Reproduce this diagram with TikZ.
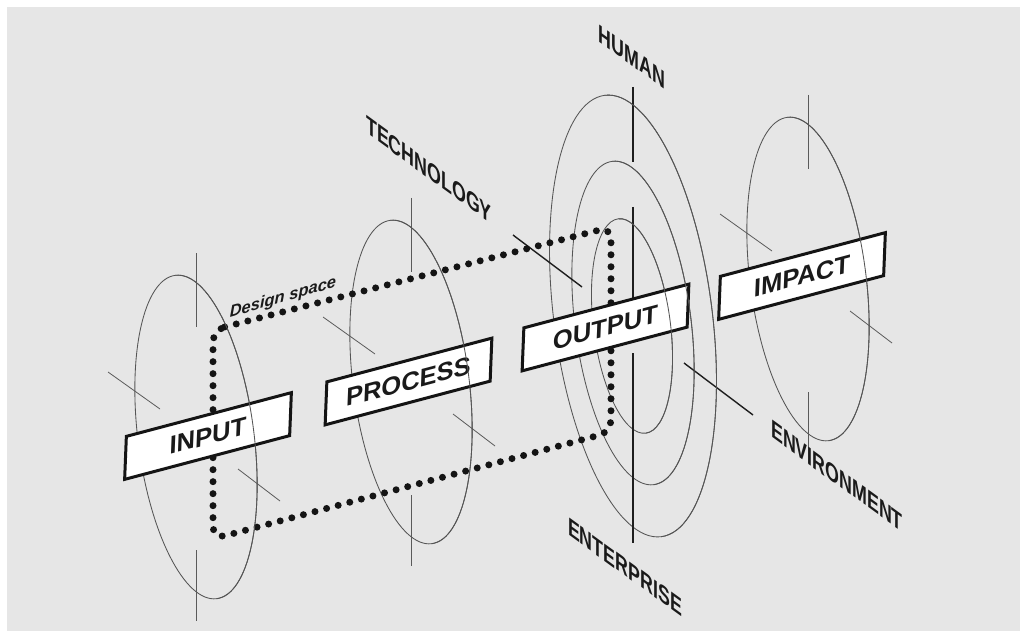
\documentclass[tikz,border=0pt]{standalone}
\usepackage{fontspec}
\setmainfont{Liberation Sans}
\definecolor{bggray}{HTML}{E6E6E6}
\definecolor{ellgray}{HTML}{555555}
\definecolor{tickgray}{HTML}{5A5A5A}
\definecolor{axisdark}{HTML}{1E1E1E}
\definecolor{textdark}{HTML}{1A1A1A}
\begin{document}
\begin{tikzpicture}[x=1pt,y=1pt,
  ell/.style={draw=ellgray, line width=0.85pt},
  tickline/.style={draw=tickgray, line width=0.8pt},
  axisline/.style={draw=axisdark, line width=1.6pt},
  stagebox/.style={draw=black!92, fill=white, line width=3pt, minimum width=165pt, minimum height=43pt, inner sep=0pt,
    cm={1,0.265,0.04,1,(0,0)}, font=\fontsize{25.5}{25.5}\selectfont\bfseries, text=textdark},
  axislabel/.style={cm={0.81,-0.59,0,1.15,(0,0)}, font=\fontsize{22}{22}\selectfont\bfseries, text=textdark, inner sep=0pt},
  dslabel/.style={cm={1,0.29,0,1,(0,0)}, font=\fontsize{16.5}{16.5}\selectfont\bfseries\itshape, text=textdark, inner sep=0pt},
  dots/.style={draw=black!92, line width=7pt, line cap=round, dash pattern=on 0pt off 12pt},
  bigell/.pic={\draw[ell, rotate=7.3] (0,0) ellipse [x radius=58, y radius=163];},
  bigfront/.pic={\draw[ell, rotate=7.3] (0,163) arc [start angle=90, end angle=-90, x radius=58, y radius=163];},
  ringticks/.pic={
    \draw[tickline] (0,184) -- (0,110);
    \draw[tickline] (0,-113) -- (0,-184);
    \draw[tickline] (-88,65) -- (-36,28);
    \draw[tickline] (42,-32) -- (84,-64);
  }
]
\useasboundingbox (0,0) rectangle (1020,-631);
\fill[white] (0,0) rectangle (1020,-631);
\fill[bggray] (7,-7) rectangle (1020,-631);

% centres
\coordinate (cIn) at (196,-437);
\coordinate (cPr) at (411,-382);
\coordinate (cIm) at (808,-279);
\coordinate (cO1) at (633,-316);
\coordinate (cO2) at (633,-323);
\coordinate (cO3) at (632,-326);

% rings
\pic at (cIn) {bigell};
\pic at (cIn) {ringticks};
\pic at (cPr) {bigell};
\pic at (cPr) {ringticks};
\pic at (cIm) {bigell};
\pic at (cIm) {ringticks};
\pic[scale=1.365] at (cO1) {bigell};
\pic at (cO2) {bigell};
\pic[scale=0.663] at (cO3) {bigell};

% axes through OUTPUT
\coordinate (hTop) at (633,-87);
\coordinate (hA) at (633,-162);
\coordinate (hB) at (633,-207);
\coordinate (hC) at (633,-300);
\coordinate (hD) at (633,-353);
\coordinate (hBot) at (633,-543);
\draw[axisline] (hTop) -- (hA);
\draw[axisline] (hB) -- (hC);
\draw[axisline] (hD) -- (hBot);
\coordinate (tA) at (513,-235);
\coordinate (tB) at (582,-287);
\coordinate (eA) at (684,-363);
\coordinate (eB) at (753,-415);
\draw[axisline, line width=1.4pt] (tA) -- (tB);
\draw[axisline, line width=1.4pt] (eA) -- (eB);

% design space
\coordinate (dTL) at (213,-330);
\coordinate (dTR) at (611,-227);
\coordinate (dBR) at (611,-432);
\coordinate (dBL) at (213,-539);
\draw[dots, rounded corners=12pt] (dTL) -- (dTR) -- (dBR) -- (dBL) -- cycle;

% stage boxes
\node[stagebox] (input) at (208,-436) {INPUT};
\node[stagebox] (process) at (408.5,-381.5) {PROCESS};
\node[stagebox] (output) at (605.5,-327.5) {OUTPUT};
\node[stagebox] (impact) at (802,-276) {IMPACT};

% front halves of rings
\pic at (cIn) {bigfront};
\pic at (cPr) {bigfront};
\pic at (cIm) {bigfront};
\pic[scale=1.365] at (cO1) {bigfront};
\pic at (cO2) {bigfront};
\pic[scale=0.663] at (cO3) {bigfront};

% labels
\node[dslabel] (ds) at (283,-298) {Design space};
\node[axislabel] (human) at (632,-57) {HUMAN};
\node[axislabel] (tech) at (429,-170) {TECHNOLOGY};
\node[axislabel] (env) at (837,-476) {ENVIRONMENT};
\node[axislabel] (ent) at (625,-567) {ENTERPRISE};
\end{tikzpicture}
\end{document}
